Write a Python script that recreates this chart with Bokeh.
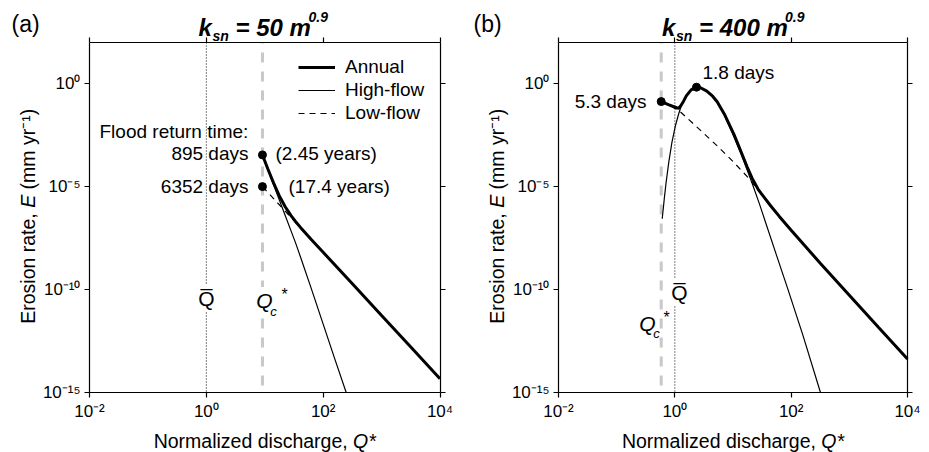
import numpy as np
from bokeh.plotting import figure
from bokeh.layouts import row
from bokeh.models import (Label, LogAxis, FixedTicker, CustomJSTickFormatter,
                          Legend, LegendItem)
from bokeh.embed import file_html
from bokeh.resources import INLINE

# ---------------------------------------------------------------- axes
x_ticks = [1e-2, 1e0, 1e2, 1e4]
x_tick_labels = ["10⁻²", "10⁰", "10²", "10⁴"]
y_ticks = [1e-15, 1e-10, 1e-5, 1e0]
y_tick_labels = ["10⁻¹⁵", "10⁻¹⁰", "10⁻⁵", "10⁰"]
X_LIMITS = (1e-2, 1e4)
Y_LIMITS = (1e-15, 1e2)

# ---------------------------------------------------------------- panel (a): ksn = 50
# curves given as log10(Q*) and log10(E)
a_annual_logQ = [0.961, 1.05, 1.15, 1.25, 1.35, 1.45, 1.526, 1.612, 1.8, 2.0, 2.5, 3.0, 3.5, 4.0]
a_annual_logE = [-3.46, -4.12, -4.82, -5.45, -5.98, -6.41, -6.69, -6.98, -7.58, -8.19, -9.72, -11.26, -12.79, -14.33]
a_high_logQ = [0.961, 1.05, 1.15, 1.25, 1.35, 1.45, 1.526, 1.612, 1.8, 2.0, 2.2, 2.394]
a_high_logE = [-3.47, -4.15, -4.9, -5.65, -6.4, -7.15, -7.72, -8.42, -9.98, -11.68, -13.38, -15.0]
a_low_logQ = [0.961, 1.5, 2.0, 2.5, 3.0, 3.5, 4.0]
a_low_logE = [-5.0, -6.65, -8.19, -9.72, -11.26, -12.79, -14.33]
a_qbar = 1.0
a_qc = 9.14
a_event_Q = [9.14, 9.14]
a_event_E = [3.47e-4, 1.0e-5]

# ---------------------------------------------------------------- panel (b): ksn = 400
b_annual_logQ = [-0.234, -0.1, 0.03, 0.068, 0.1, 0.15, 0.2, 0.28, 0.372, 0.45, 0.55, 0.65,
                 0.728, 0.85, 1.014, 1.13, 1.244, 1.33, 1.43, 1.53, 1.65, 1.8, 2.0, 2.5,
                 3.0, 3.5, 4.0]
b_annual_logE = [-0.87, -1.03, -1.17, -1.19, -1.08, -0.85, -0.58, -0.30, -0.17, -0.21, -0.36,
                 -0.61, -0.88, -1.47, -2.45, -3.25, -4.05, -4.60, -5.12, -5.50, -5.94, -6.46,
                 -7.12, -8.72, -10.28, -11.83, -13.37]
b_high_logQ = [-0.217, -0.18, -0.15, -0.104, -0.05, 0.011, 0.068, 0.12, 0.2, 0.28, 0.372,
               0.45, 0.55, 0.65, 0.728, 0.85, 1.014, 1.13, 1.244, 1.33, 1.45, 1.559, 1.75,
               1.932, 2.2, 2.504]
b_high_logE = [-6.56, -5.55, -4.80, -3.81, -2.85, -2.03, -1.45, -1.0, -0.58, -0.31, -0.19,
               -0.22, -0.37, -0.63, -0.91, -1.52, -2.55, -3.35, -4.2, -4.85, -5.8, -6.73,
               -8.35, -9.88, -12.2, -15.0]
b_low_logQ = [-0.234, -0.1, 0.068, 0.3, 0.5, 0.728, 1.0, 1.3, 1.53, 1.8, 2.0, 2.5, 3.0, 3.5, 4.0]
b_low_logE = [-0.87, -1.04, -1.30, -1.90, -2.42, -3.02, -3.78, -4.68, -5.55, -6.48, -7.14,
              -8.74, -10.3, -11.85, -13.38]
b_qbar = 1.0
b_qc = 0.583
b_event_Q = [0.583, 2.355]
b_event_E = [0.135, 0.676]

FONT = "Liberation Sans"
GRAY = "#c8c8c8"
H = 452      # canvas height
NOTE = 19    # annotation text size

TICK_CODE = """
const lt = Math.log10(tick);
for (let i = 0; i < vals.length; i++) {
    if (Math.abs(Math.log10(vals[i]) - lt) < 1e-6) { return labels[i]; }
}
return "";
"""


def style_axis(ax, with_labels):
    ax.axis_line_color = "black"
    ax.axis_line_width = 1.2
    ax.major_tick_line_color = "black"
    ax.major_tick_line_width = 1.2
    ax.major_tick_out = 5
    ax.major_tick_in = 0
    ax.minor_tick_line_color = None
    ax.major_label_text_font = FONT
    ax.major_label_text_font_size = "17px" if with_labels else "0px"
    ax.major_label_text_color = "black"
    ax.major_label_standoff = 4


def make_fig(width, box_left, box_right, box_top=42, box_bottom=392):
    """Figure whose frame fills the canvas; the axes box sits at the given pixels."""
    lx0, lx1 = np.log10(X_LIMITS)
    ly0, ly1 = np.log10(Y_LIMITS)
    px_dec_x = (box_right - box_left) / (lx1 - lx0)
    px_dec_y = (box_bottom - box_top) / (ly1 - ly0)
    xr = (10 ** (lx0 - box_left / px_dec_x), 10 ** (lx1 + (width - box_right) / px_dec_x))
    yr = (10 ** (ly0 - (H - box_bottom) / px_dec_y), 10 ** (ly1 + box_top / px_dec_y))

    p = figure(width=width, height=H, x_axis_type="log", y_axis_type="log",
               x_range=xr, y_range=yr, output_backend="svg", toolbar_location=None,
               min_border=0, min_border_left=0, min_border_right=0,
               min_border_top=0, min_border_bottom=0)
    p.xgrid.visible = False
    p.ygrid.visible = False
    p.outline_line_color = None
    p.background_fill_color = "white"
    p.border_fill_color = "white"

    p.xaxis.ticker = FixedTicker(ticks=x_ticks)
    p.xaxis.formatter = CustomJSTickFormatter(args=dict(vals=x_ticks, labels=x_tick_labels), code=TICK_CODE)
    p.xaxis.fixed_location = Y_LIMITS[0]
    p.xaxis.bounds = X_LIMITS
    p.yaxis.ticker = FixedTicker(ticks=y_ticks)
    p.yaxis.formatter = CustomJSTickFormatter(args=dict(vals=y_ticks, labels=y_tick_labels), code=TICK_CODE)
    p.yaxis.fixed_location = X_LIMITS[0]
    p.yaxis.bounds = Y_LIMITS
    style_axis(p.xaxis[0], True)
    style_axis(p.yaxis[0], True)

    top = LogAxis(ticker=FixedTicker(ticks=x_ticks), formatter=CustomJSTickFormatter(code="return '';"),
                  fixed_location=Y_LIMITS[1], bounds=X_LIMITS)
    right_ax = LogAxis(ticker=FixedTicker(ticks=y_ticks), formatter=CustomJSTickFormatter(code="return '';"),
                       fixed_location=X_LIMITS[1], bounds=Y_LIMITS)
    style_axis(top, False)
    style_axis(right_ax, False)
    p.add_layout(top, "above")
    p.add_layout(right_ax, "right")
    return p


def put(p, x0, px, py, text, size, style="normal", align="left", baseline="middle",
        angle=0.0, bg=None):
    """Text placed at page pixel coordinates (x0 = page x of this figure's left edge)."""
    lab = Label(x=px - x0, y=H - py, x_units="screen", y_units="screen", text=text,
                text_font=FONT, text_font_size=f"{size}px", text_font_style=style,
                text_align=align, text_baseline=baseline, text_color="black", angle=angle)
    if bg is not None:
        lab.background_fill_color = bg
        lab.padding = 2
    p.add_layout(lab)


def draw_panel(p, qbar, qc, annual, high, low, ev_q, ev_e):
    p.segment(x0=[qbar], y0=[Y_LIMITS[1]], x1=[qbar], y1=[Y_LIMITS[0]], line_color="black",
              line_width=1, line_dash="1 2")
    p.segment(x0=[qc], y0=[Y_LIMITS[1]], x1=[qc], y1=[Y_LIMITS[0]], line_color=GRAY,
              line_width=3, line_dash="10 9", line_dash_offset=-10)
    r_low = p.line(10 ** np.array(low[0]), 10 ** np.array(low[1]), line_color="black",
                   line_width=1.2, line_dash="6 5")
    r_high = p.line(10 ** np.array(high[0]), 10 ** np.array(high[1]), line_color="black",
                    line_width=1.2)
    r_ann = p.line(10 ** np.array(annual[0]), 10 ** np.array(annual[1]), line_color="black",
                   line_width=3)
    p.scatter(ev_q, ev_e, size=8, color="black")
    return r_ann, r_high, r_low


def axis_titles(p, x0, xc, ylab_x):
    size = 19.5
    # x title: "Normalized discharge, " + italic "Q*"
    w1 = 10.225 * size
    w2 = 1.167 * size
    xs = xc - (w1 + w2) / 2
    put(p, x0, xs, 440, "Normalized discharge, ", size)
    put(p, x0, xs + w1, 440, "Q*", size, style="italic")
    # y title, read bottom to top: "Erosion rate, " + italic "E" + " (mm yr⁻¹)"
    ys = 217 + 0.5 * 10.9 * size
    e_pos = ys - 5.947 * size
    put(p, x0, ylab_x, ys, "Erosion rate, ", size, angle=np.pi / 2)
    put(p, x0, ylab_x, e_pos, "E", size, style="italic", angle=np.pi / 2)
    put(p, x0, ylab_x, e_pos - (0.667 + 0.278) * size, "(mm yr⁻¹)", size, angle=np.pi / 2)


def panel_title(p, x0, kx, rest, sup_x):
    put(p, x0, kx, 27, "k", 24, style="bold italic", baseline="alphabetic")
    put(p, x0, kx + 14, 35, "sn", 14, style="bold italic", baseline="alphabetic")
    put(p, x0, kx + 37, 27, rest, 24, style="bold italic", baseline="alphabetic")
    put(p, x0, sup_x, 16, "0.9", 14, style="bold italic", baseline="alphabetic")


# ---------------------------------------------------------------- panel (a)
XA = 0
pa = make_fig(464, 89, 439.5)
ra = draw_panel(pa, a_qbar, a_qc, (a_annual_logQ, a_annual_logE), (a_high_logQ, a_high_logE),
                (a_low_logQ, a_low_logE), a_event_Q, a_event_E)

legend = Legend(items=[LegendItem(label="Annual", renderers=[ra[0]]),
                       LegendItem(label="High-flow", renderers=[ra[1]]),
                       LegendItem(label="Low-flow", renderers=[ra[2]])],
                location=(298, H - 56 - 68), glyph_width=37, glyph_height=20, label_height=20,
                label_standoff=10, spacing=1, padding=0, margin=0,
                border_line_color=None, background_fill_alpha=0,
                label_text_font=FONT, label_text_font_size=f"{NOTE}px",
                label_text_color="black")
pa.add_layout(legend)

put(pa, XA, 11, 23, "(a)", 23)
panel_title(pa, XA, 198, "= 50 m", 308)

put(pa, XA, 99, 131, "Flood return time:", NOTE)
put(pa, XA, 248, 153, "895 days", NOTE, align="right")
put(pa, XA, 275, 153, "(2.45 years)", NOTE)
put(pa, XA, 248, 186, "6352 days", NOTE, align="right")
put(pa, XA, 288, 186, "(17.4 years)", NOTE)
put(pa, XA, 206, 298, "Q\u0305", 21, align="center", bg="white")
put(pa, XA, 264, 300, "Q", 21, style="italic", align="center", bg="white")
put(pa, XA, 273, 311, "c", 13, style="italic", align="center")
put(pa, XA, 284, 294, "*", 16, align="center")

axis_titles(pa, XA, 264.25, 27)

# ---------------------------------------------------------------- panel (b)
XB = 464
pb = make_fig(465, 558 - XB, 907 - XB)
draw_panel(pb, b_qbar, b_qc, (b_annual_logQ, b_annual_logE), (b_high_logQ, b_high_logE),
           (b_low_logQ, b_low_logE), b_event_Q, b_event_E)

put(pb, XB, 473, 23, "(b)", 23)
panel_title(pb, XB, 661.5, "= 400 m", 784.5)

put(pb, XB, 646, 101, "5.3 days", NOTE, align="right")
put(pb, XB, 702, 72, "1.8 days", NOTE)
put(pb, XB, 679, 292, "Q\u0305", 21, align="center", bg="white")
put(pb, XB, 647, 323, "Q", 21, style="italic", align="center", bg="white")
put(pb, XB, 656, 333, "c", 13, style="italic", align="center")
put(pb, XB, 666, 317, "*", 16, align="center")

axis_titles(pb, XB, 732.5, 496)

layout = row(pa, pb)
open("out.html", "w").write(file_html(layout, INLINE))
